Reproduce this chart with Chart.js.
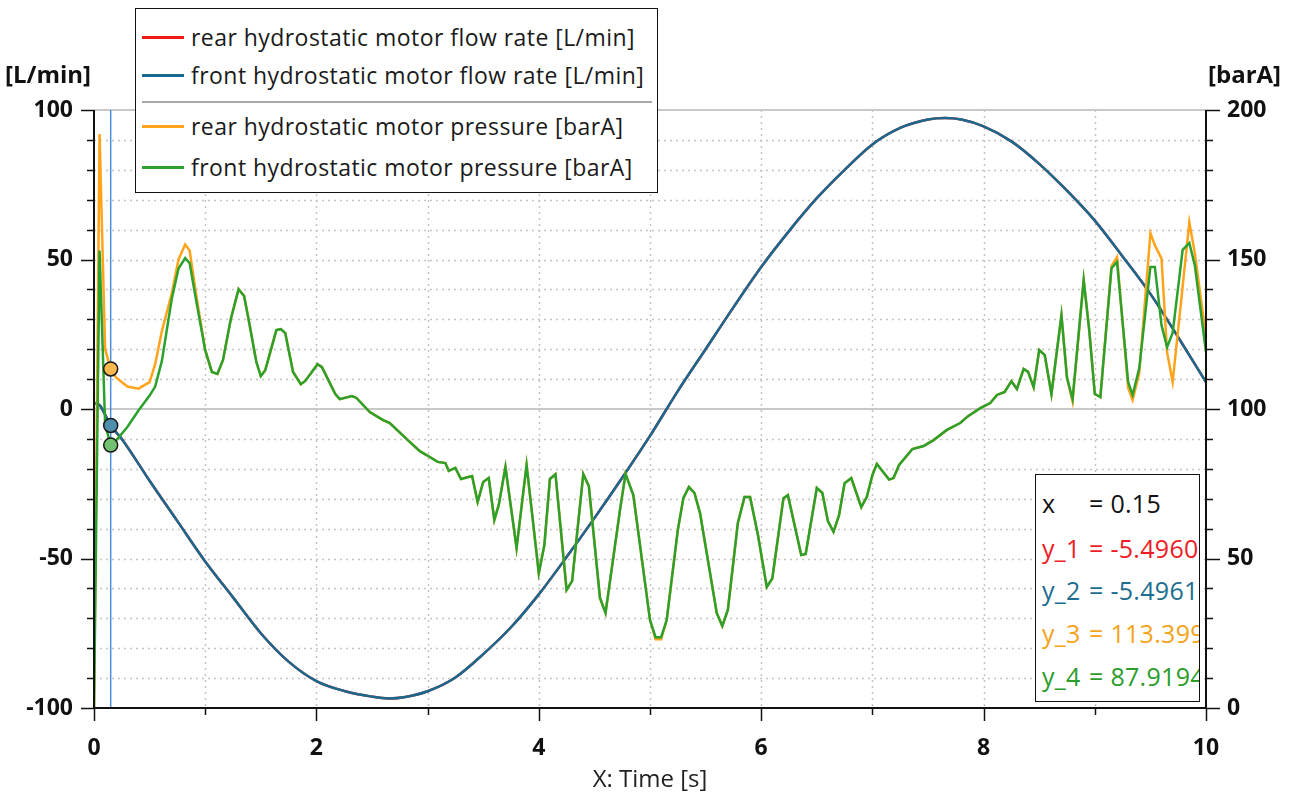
<!DOCTYPE html>
<html lang="en">
<head>
  <meta charset="UTF-8" />
  <title>Hydrostatic motor flow rate and pressure</title>
  <script src="https://cdn.jsdelivr.net/npm/chart.js"></script>
  <style>
    body { margin: 0; background: #fff; font-family: "Open Sans", Arial, sans-serif; }
    #wrap { position: relative; width: 1292px; height: 798px; overflow: hidden; }
    #chart { position: absolute; left: 0; top: 0; }
    .unit { position: absolute; top: 57px; font-weight: bold; font-size: 24px; color: #111; }
    #xtitle { position: absolute; left: 0; width: 1300px; top: 761px; text-align: center; font-size: 24px; color: #222; }
    #legend { position: absolute; left: 135px; top: 8px; width: 521px; height: 183px; border: 1.5px solid #111; background: #fff; }
    #legend .row { position: absolute; left: 0; height: 30px; line-height: 30px; font-size: 23px; letter-spacing: 0.45px; color: #1a1a1a; white-space: nowrap; }
    #legend .swatch { position: absolute; left: 6px; top: 14px; width: 42px; height: 3px; }
    #legend .label { position: absolute; left: 55px; top: 0; }
    #legend .sep { position: absolute; left: 6px; width: 510px; top: 92px; height: 2px; background: #a8a8a8; }
    #readout { position: absolute; left: 1035px; top: 474px; width: 163px; height: 226px; border: 1.5px solid #111; background: #fff; overflow: hidden; }
    #readout .row { position: absolute; left: 6px; font-size: 25px; letter-spacing: 0.3px; white-space: nowrap; line-height: 30px; }
    #readout .k { display: inline-block; width: 47px; }
  </style>
</head>
<body>
<div id="wrap">
  <canvas id="chart" width="1292" height="798"></canvas>
  <div class="unit" style="left:5px">[L/min]</div>
  <div class="unit" style="left:1208px">[barA]</div>
  <div id="xtitle">X: Time [s]</div>

  <div id="legend">
    <div class="row" style="top:13px"><span class="swatch" style="background:#f01c1c"></span><span class="label">rear hydrostatic motor flow rate [L/min]</span></div>
    <div class="row" style="top:51px"><span class="swatch" style="background:#176a8e"></span><span class="label">front hydrostatic motor flow rate [L/min]</span></div>
    <div class="sep"></div>
    <div class="row" style="top:102px"><span class="swatch" style="background:#ffa41a"></span><span class="label">rear hydrostatic motor pressure [barA]</span></div>
    <div class="row" style="top:143px"><span class="swatch" style="background:#2ca02c"></span><span class="label">front hydrostatic motor pressure [barA]</span></div>
  </div>

  <div id="readout">
    <div class="row" style="top:13px;color:#111"><span class="k">x</span>= 0.15</div>
    <div class="row" style="top:58px;color:#ee1c24"><span class="k">y_1</span>= -5.4960</div>
    <div class="row" style="top:100px;color:#1d6d8f"><span class="k">y_2</span>= -5.4961</div>
    <div class="row" style="top:143px;color:#f5a31a"><span class="k">y_3</span>= 113.399</div>
    <div class="row" style="top:186px;color:#2a9d2a"><span class="k">y_4</span>= 87.9194</div>
  </div>
</div>

<script>
  // flow rate [L/min], left axis
  const timeQ = [0, 0.05, 0.15, 0.25, 0.5, 0.75, 1.0, 1.25, 1.5, 1.75, 2.0, 2.25, 2.5, 2.65, 2.8, 3.0, 3.25, 3.5, 3.75,
                 4.0, 4.25, 4.5, 4.75, 5.0, 5.25, 5.5, 5.75, 6.0, 6.25, 6.5, 6.75, 7.0, 7.25, 7.5, 7.65, 7.8, 8.0, 8.25,
                 8.5, 8.75, 9.0, 9.25, 9.5, 9.75, 10.0];
  const frontQ = [2, 1.3, -5.5, -10, -24, -37.5, -51, -63, -75, -84.5, -91, -94.3, -96.2, -96.8, -96.3, -94.4, -89.8, -82, -73,
                  -62, -49.5, -36.5, -23, -9, 6, 20, 34, 47.5, 59.5, 70.5, 80, 88.5, 94, 96.8, 97.3, 96.8, 94.5, 89.5,
                  82, 73, 63, 51, 38.5, 24, 9];
  const rearQ = [2, 1.3, -5.5, -10, -24, -37.5, -51, -63, -75, -84.5, -91, -94.3, -96.2, -96.8, -96.3, -94.4, -89.8, -82, -73,
                 -62, -49.5, -36.5, -23, -9, 6, 20, 34, 47.5, 59.5, 70.5, 80, 88.5, 94, 96.8, 97.3, 96.8, 94.5, 89.5,
                 82, 73, 63, 51, 38.5, 24, 9];

  // pressure [barA], right axis
  const timeP = [0, 0.05, 0.1, 0.15, 0.2, 0.3, 0.4, 0.5, 0.55, 0.61, 0.7, 0.76, 0.82, 0.86, 0.92,
    1.0, 1.06, 1.11, 1.16, 1.23, 1.30, 1.35, 1.40, 1.46, 1.50, 1.54, 1.64, 1.68, 1.72, 1.79, 1.86, 1.90,
    2.01, 2.05, 2.17, 2.21, 2.32, 2.36, 2.48, 2.60, 2.66, 2.81, 2.93, 2.99, 3.09, 3.16, 3.19, 3.25, 3.30,
    3.40, 3.45, 3.50, 3.55, 3.60, 3.64, 3.70, 3.80, 3.89, 4.00, 4.05, 4.10, 4.15, 4.25, 4.30, 4.40, 4.45,
    4.55, 4.60, 4.73, 4.78, 4.85, 5.00, 5.05, 5.10, 5.15, 5.25, 5.30, 5.35, 5.40, 5.45, 5.60, 5.65, 5.70,
    5.79, 5.85, 5.90, 5.97, 6.05, 6.10, 6.20, 6.24, 6.36, 6.40, 6.50, 6.55, 6.60, 6.65, 6.70, 6.75, 6.81,
    6.90, 6.95, 7.00, 7.04, 7.15, 7.19, 7.24, 7.36, 7.46, 7.55, 7.67, 7.79, 7.86, 7.97, 8.06, 8.12, 8.19,
    8.25, 8.30, 8.36, 8.40, 8.45, 8.50, 8.55, 8.61, 8.70, 8.75, 8.80, 8.90, 8.95, 9.00, 9.05, 9.15, 9.20,
    9.30, 9.34, 9.40, 9.50, 9.54, 9.60, 9.65, 9.70, 9.79, 9.85, 9.90, 10.0];
  const frontP = [0, 153, 95, 87.9, 89.5, 94, 99.5, 104.5, 107.5, 116, 137, 147, 150.5, 148.8, 136,
    119.7, 112.4, 111.7, 116.4, 130, 140.1, 137.8, 128, 115.7, 111, 113, 126.4, 126.7, 125.4, 112.4, 108.3, 109.4,
    115, 114, 105, 103.3, 104.3, 103.7, 99, 96.3, 95.3, 90, 85.9, 84.6, 82.3, 81.9, 79.3, 80.3, 76.6,
    77.6, 68.9, 75.6, 76.9, 62.9, 67.9, 80.6, 53.5, 81.3, 45.1, 54.5, 76.6, 78.2, 39.5, 42.5, 78.2, 74.2,
    36.8, 31.8, 66.2, 78.3, 71.2, 29.4, 23.7, 23.7, 29.4, 59.5, 70.2, 73.9, 71.9, 65.2, 31.8, 27.4, 32.8,
    61.9, 70.6, 70.6, 58, 40.5, 43.3, 70.2, 71.2, 51.2, 51.5, 73.6, 71.9, 62.5, 58.9, 64.5, 75.2, 76.9,
    67.2, 70.6, 77.9, 81.6, 76.4, 76.9, 81.3, 86.6, 87.6, 89.6, 93, 95.3, 97.6, 100.3, 102, 104.7, 105.7,
    109.3, 106.7, 113.4, 112.4, 107.3, 119.7, 118, 105, 131.4, 110.4, 103.3, 143.1, 126.4, 105, 104, 147.1, 149.2,
    109, 104.7, 113.7, 147.5, 147.5, 128, 120.7, 125.4, 153.2, 155.5, 148, 119];
  const rearP = [0, 192, 120, 113.4, 110.5, 107.5, 106.8, 109, 115, 126, 138.8, 150, 155, 153, 138,
    119.7, 112.4, 111.7, 116.4, 130, 140.1, 137.8, 128, 115.7, 111, 113, 126.4, 126.7, 125.4, 112.4, 108.3, 109.4,
    115, 114, 105, 103.3, 104.3, 103.7, 99, 96.3, 95.3, 90, 85.9, 84.6, 82.3, 81.9, 79.3, 80.3, 76.6,
    77.6, 68.9, 75.6, 76.9, 62.9, 67.9, 80.6, 53.5, 81.3, 45.1, 54.5, 76.6, 78.2, 39.5, 42.5, 78.2, 74.2,
    36.8, 31.8, 66.2, 78.3, 71.2, 29.4, 23, 23, 29.4, 59.5, 70.2, 73.9, 71.9, 65.2, 31.8, 27.4, 32.8,
    61.9, 70.6, 70.6, 58, 40.5, 43.3, 70.2, 71.2, 51.2, 51.5, 73.6, 71.9, 62.5, 58.9, 64.5, 75.2, 76.9,
    67.2, 70.6, 77.9, 81.6, 76.4, 76.9, 81.3, 86.6, 87.6, 89.6, 93, 95.3, 97.6, 100.3, 102, 104.7, 105.7,
    109.3, 106.7, 113.4, 112.4, 107.3, 119.7, 118, 105, 131.4, 110.4, 102.5, 143.1, 126.4, 105, 104, 147.8, 150.8,
    107, 103, 112, 158.8, 154.8, 150.3, 119, 109, 141, 162.5, 152, 124];

  // cursor readout
  const cursorX = 0.15;
  const cursorQ = -5.4961;
  const cursorRearP = 113.399;
  const cursorFrontP = 87.9194;

  const xy = (ts, vs) => ts.map((t, i) => ({ x: t, y: vs[i] }));

  const tickFont = { family: '"Open Sans", Arial, sans-serif', size: 23, weight: 'bold' };

  // dotted grid, zero line, cursor line, axis frame and tick marks
  const gridPlugin = {
    id: 'grid',
    beforeDatasetsDraw(chart) {
      const { ctx, chartArea: a, scales: { x, y } } = chart;
      ctx.save();
      ctx.strokeStyle = '#c4c4c4';
      ctx.lineWidth = 1.5;
      ctx.setLineDash([2, 4]);
      for (let t = 1; t < 10; t++) {
        const px = Math.round(x.getPixelForValue(t)) + 0.5;
        ctx.beginPath(); ctx.moveTo(px, a.top); ctx.lineTo(px, a.bottom); ctx.stroke();
      }
      for (let v = -90; v < 100; v += 10) {
        if (v === 0) continue;
        const py = Math.round(y.getPixelForValue(v)) + 0.5;
        ctx.beginPath(); ctx.moveTo(a.left, py); ctx.lineTo(a.right, py); ctx.stroke();
      }
      ctx.setLineDash([]);
      ctx.lineWidth = 2;
      ctx.strokeStyle = '#c8c8c8';
      [0, 100].forEach(v => {
        const py = Math.round(y.getPixelForValue(v));
        ctx.beginPath(); ctx.moveTo(a.left, py); ctx.lineTo(a.right, py); ctx.stroke();
      });
      const cx = x.getPixelForValue(cursorX);
      ctx.strokeStyle = '#4a8fdc';
      ctx.lineWidth = 1.5;
      ctx.beginPath(); ctx.moveTo(cx, a.top); ctx.lineTo(cx, a.bottom); ctx.stroke();
      ctx.restore();
    },
    afterDatasetsDraw(chart) {
      const { ctx, chartArea: a, scales: { x, y, y2 } } = chart;
      ctx.save();
      ctx.strokeStyle = '#111';
      ctx.lineWidth = 2;
      ctx.beginPath();
      ctx.moveTo(a.left, a.top); ctx.lineTo(a.left, a.bottom); ctx.lineTo(a.right, a.bottom); ctx.lineTo(a.right, a.top);
      ctx.stroke();
      ctx.lineWidth = 1.5;
      for (let v = -100; v <= 100; v += 10) {
        const py = Math.round(y.getPixelForValue(v)) + 0.5;
        const len = v % 50 === 0 ? 13 : 7;
        ctx.beginPath(); ctx.moveTo(a.left, py); ctx.lineTo(a.left - len, py); ctx.stroke();
      }
      for (let v = 0; v <= 200; v += 10) {
        const py = Math.round(y2.getPixelForValue(v)) + 0.5;
        const len = v % 50 === 0 ? 14 : 7;
        ctx.beginPath(); ctx.moveTo(a.right, py); ctx.lineTo(a.right + len, py); ctx.stroke();
      }
      for (let t = 0; t <= 10; t++) {
        const px = Math.round(x.getPixelForValue(t)) + 0.5;
        const len = t % 2 === 0 ? 13 : 7;
        ctx.beginPath(); ctx.moveTo(px, a.bottom); ctx.lineTo(px, a.bottom + len); ctx.stroke();
      }
      ctx.restore();
    }
  };

  const marker = (label, pts, axis, fill) => ({
    label, data: pts, yAxisID: axis, showLine: false, order: 0,
    pointRadius: 7, pointBackgroundColor: fill, pointBorderColor: '#1a1a1a', pointBorderWidth: 1.5
  });

  new Chart(document.getElementById('chart'), {
    type: 'line',
    data: {
      datasets: [
        { label: 'rear hydrostatic motor flow rate [L/min]', data: xy(timeQ, rearQ), yAxisID: 'y',
          borderColor: '#f01c1c', borderWidth: 2.5, pointRadius: 0, order: 4, cubicInterpolationMode: 'monotone' },
        { label: 'front hydrostatic motor flow rate [L/min]', data: xy(timeQ, frontQ), yAxisID: 'y',
          borderColor: '#176a8e', borderWidth: 2.5, pointRadius: 0, order: 3, cubicInterpolationMode: 'monotone' },
        { label: 'rear hydrostatic motor pressure [barA]', data: xy(timeP, rearP), yAxisID: 'y2',
          borderColor: '#ffa41a', borderWidth: 2.5, pointRadius: 0, order: 2 },
        { label: 'front hydrostatic motor pressure [barA]', data: xy(timeP, frontP), yAxisID: 'y2',
          borderColor: '#2ca02c', borderWidth: 2.5, pointRadius: 0, order: 1 },
        marker('y_3', [{ x: cursorX, y: cursorRearP }], 'y2', '#f8b84e'),
        marker('y_2', [{ x: cursorX, y: cursorQ }], 'y', '#4f8fae'),
        marker('y_4', [{ x: cursorX, y: cursorFrontP }], 'y2', '#72c272')
      ]
    },
    options: {
      responsive: false,
      animation: false,
      layout: { padding: { top: 110, left: 0, right: 0, bottom: 0 } },
      plugins: { legend: { display: false }, tooltip: { enabled: false } },
      scales: {
        x: {
          type: 'linear', min: 0, max: 10,
          grid: { display: false }, border: { display: false },
          ticks: { stepSize: 1, autoSkip: false, maxRotation: 0, padding: 19, color: '#111', font: tickFont,
                   callback: v => (v % 2 === 0 ? v : '') },
          afterFit: s => { s.height = 90; }
        },
        y: {
          position: 'left', min: -100, max: 100,
          grid: { display: false }, border: { display: false },
          ticks: { stepSize: 10, autoSkip: false, padding: 13, color: '#111', font: tickFont,
                   callback: v => (v % 50 === 0 ? v : '') },
          afterFit: s => { s.width = 94; }
        },
        y2: {
          position: 'right', min: 0, max: 200,
          grid: { display: false }, border: { display: false },
          ticks: { stepSize: 10, autoSkip: false, padding: 13, color: '#111', font: tickFont,
                   callback: v => (v % 50 === 0 ? v : '') },
          afterFit: s => { s.width = 86; }
        }
      }
    },
    plugins: [gridPlugin]
  });
</script>
</body>
</html>
